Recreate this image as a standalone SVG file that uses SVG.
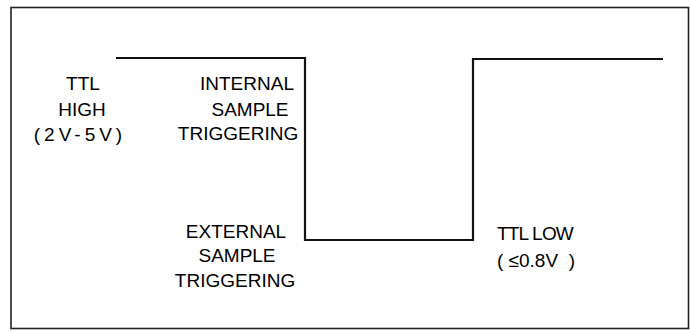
<svg xmlns="http://www.w3.org/2000/svg" width="691" height="331" viewBox="0 0 691 331">
<style>
.lbl{font-family:"Liberation Sans",Arial,Helvetica,sans-serif;font-size:19px;fill:#000;text-anchor:middle}
.wave{fill:none;stroke:#111;stroke-width:2.2;stroke-linejoin:miter}
.frame{fill:#fff;stroke:#222;stroke-width:1.6}
</style>
<rect class="frame" x="11" y="7.5" width="677.5" height="321"/>
<g id="connectors">
<polyline class="wave" points="116,58 305,58 305,240 473,240 473,59 663,59"/>
</g>
<g id="ttl-high">
<text class="lbl" x="83" y="90">TTL</text>
<text class="lbl" x="82" y="116">HIGH</text>
<text class="lbl" x="80" y="141" style="letter-spacing:4px">(2V-5V)</text>
</g>
<g id="internal">
<text class="lbl" x="247" y="90">INTERNAL</text>
<text class="lbl" x="250" y="116">SAMPLE</text>
<text class="lbl" x="238" y="140">TRIGGERING</text>
</g>
<g id="external">
<text class="lbl" x="236" y="238">EXTERNAL</text>
<text class="lbl" x="237" y="262">SAMPLE</text>
<text class="lbl" x="235" y="287">TRIGGERING</text>
</g>
<g id="ttl-low">
<text class="lbl" x="535" y="240" style="letter-spacing:-0.8px">TTL LOW</text>
<text class="lbl" x="536" y="267" xml:space="preserve">( ≤0.8V  )</text>
</g>
</svg>
